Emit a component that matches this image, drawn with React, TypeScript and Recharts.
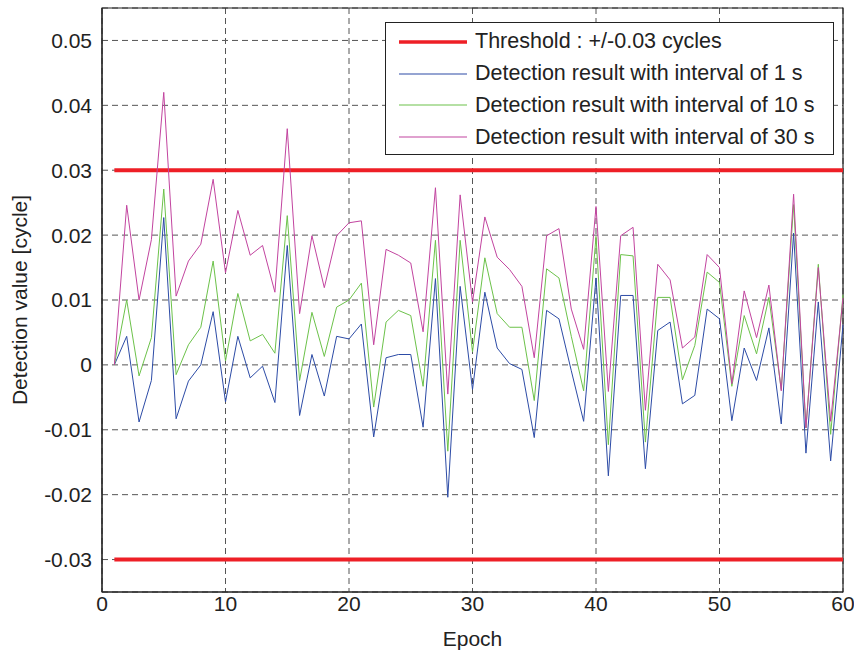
import { LineChart, Line, XAxis, YAxis, CartesianGrid, ReferenceLine, ReferenceArea } from "recharts";

const epochs = [
  1, 2, 3, 4, 5, 6, 7, 8, 9, 10, 11, 12, 13, 14, 15, 16, 17, 18, 19, 20,
  21, 22, 23, 24, 25, 26, 27, 28, 29, 30, 31, 32, 33, 34, 35, 36, 37, 38, 39, 40,
  41, 42, 43, 44, 45, 46, 47, 48, 49, 50, 51, 52, 53, 54, 55, 56, 57, 58, 59, 60,
];

const interval1s = [
  0, 0.0044, -0.0088, -0.0024, 0.0227, -0.0083, -0.0025, 0, 0.0082, -0.0057,
  0.0044, -0.002, -0.0002, -0.0058, 0.0184, -0.0078, 0.0016, -0.0048, 0.0044, 0.004,
  0.0063, -0.0111, 0.0011, 0.0016, 0.0016, -0.0096, 0.0133, -0.0204, 0.0121, -0.0038,
  0.0112, 0.0026, 0.0002, -0.0007, -0.0112, 0.0084, 0.0071, -0.0009, -0.0087, 0.0134,
  -0.0171, 0.0107, 0.0107, -0.016, 0.0053, 0.0066, -0.006, -0.0047, 0.0086, 0.0071,
  -0.0086, 0.0026, -0.0024, 0.0057, -0.0091, 0.0203, -0.0136, 0.0097, -0.0148, 0.0062,
];

const interval10s = [
  0, 0.01, -0.0017, 0.0042, 0.0271, -0.0015, 0.0031, 0.0058, 0.016, 0.0006,
  0.011, 0.0037, 0.0047, 0.0018, 0.023, -0.0024, 0.0081, 0.0013, 0.0089, 0.01,
  0.0126, -0.0065, 0.0066, 0.0084, 0.0076, -0.0033, 0.0192, -0.0133, 0.0192, 0.002,
  0.0165, 0.0079, 0.0058, 0.0058, -0.0055, 0.0148, 0.0134, 0.0044, -0.004, 0.0198,
  -0.0123, 0.017, 0.0168, -0.0119, 0.0104, 0.0104, -0.0023, 0.003, 0.0143, 0.0127,
  -0.0033, 0.0076, 0.0017, 0.0104, -0.0038, 0.0247, -0.0097, 0.0155, -0.0107, 0.0108,
];

const interval30s = [
  0, 0.0246, 0.01, 0.0193, 0.042, 0.0106, 0.016, 0.0186, 0.0286, 0.0142,
  0.0238, 0.0169, 0.0184, 0.0112, 0.0364, 0.0079, 0.0199, 0.0119, 0.0199, 0.0219,
  0.0222, 0.0031, 0.0178, 0.0169, 0.0157, 0.0051, 0.0273, -0.0045, 0.0262, 0.0097,
  0.0228, 0.0166, 0.0147, 0.0121, 0.0011, 0.0199, 0.021, 0.0086, 0.0024, 0.0244,
  -0.0041, 0.0199, 0.0212, -0.007, 0.0155, 0.0131, 0.0026, 0.0043, 0.017, 0.015,
  -0.0029, 0.0114, 0.0042, 0.0123, -0.004, 0.0263, -0.0097, 0.015, -0.0087, 0.0103,
];

const threshold = 0.03;
const xTicks = [0, 10, 20, 30, 40, 50, 60];
const yTicks = [-0.03, -0.02, -0.01, 0, 0.01, 0.02, 0.03, 0.04, 0.05];

const seriesNames = [
  "Threshold : +/-0.03 cycles",
  "Detection result with interval of 1 s",
  "Detection result with interval of 10 s",
  "Detection result with interval of 30 s",
];
const seriesColors = ["#ee1f26", "#2c4ba6", "#6cc24a", "#c2449f"];

const data = epochs.map((epoch, i) => ({
  epoch,
  s1: interval1s[i],
  s10: interval10s[i],
  s30: interval30s[i],
}));

const font = "'Liberation Sans', Arial, Helvetica, sans-serif";
const tickStyle = { fontSize: 21, fill: "#222", fontFamily: font };

const fmtY = (v: number) => (v === 0 ? "0" : v.toFixed(2));

// legend drawn as an overlay so it does not take room from the plot
const LegendBox = () => (
  <div
    style={{
      position: "absolute",
      left: 385,
      top: 22,
      border: "1px solid #222",
      background: "#fff",
      width: 449,
      height: 133,
      boxSizing: "border-box",
      paddingTop: 3,
      fontFamily: font,
      fontSize: 21.5,
      color: "#222",
    }}
  >
    {seriesNames.map((name, i) => (
      <div key={name} style={{ display: "flex", alignItems: "center", height: 31.8 }}>
        <svg width={70} height={10} style={{ marginLeft: 12, flexShrink: 0 }}>
          <line x1={1} x2={69} y1={5} y2={5} stroke={seriesColors[i]} strokeWidth={i === 0 ? 3.5 : 1.2} />
        </svg>
        <span style={{ marginLeft: 7, whiteSpace: "nowrap" }}>{name}</span>
      </div>
    ))}
  </div>
);

export default function App() {
  return (
    <div style={{ position: "absolute", left: 0, top: 0, width: 854, height: 652, background: "#fff" }}>
      <LineChart width={854} height={652} data={data} margin={{ top: 8, right: 11, left: 10, bottom: 0 }}>
        <CartesianGrid strokeDasharray="6 4" stroke="#555" />
        <XAxis
          dataKey="epoch"
          type="number"
          domain={[0, 60]}
          ticks={xTicks}
          height={60}
          tick={tickStyle}
          tickLine={false}
          tickSize={2}
          tickMargin={2}
          axisLine={{ stroke: "#222" }}
          label={{ value: "Epoch", position: "insideBottom", offset: 6, style: tickStyle }}
        />
        <YAxis
          type="number"
          domain={[-0.035, 0.055]}
          ticks={yTicks}
          width={92}
          tick={tickStyle}
          tickFormatter={fmtY}
          tickLine={false}
          tickSize={4}
          tickMargin={6}
          axisLine={{ stroke: "#222" }}
          label={{
            value: "Detection value [cycle]",
            angle: -90,
            position: "insideLeft",
            offset: 10,
            style: { ...tickStyle, textAnchor: "middle" },
          }}
        />
        <ReferenceArea x1={0} x2={60} y1={-0.035} y2={0.055} fill="none" stroke="#222" strokeWidth={1.2} ifOverflow="visible" />
        <ReferenceLine
          segment={[{ x: 1, y: threshold }, { x: 60, y: threshold }]}
          stroke={seriesColors[0]}
          strokeWidth={4}
        />
        <ReferenceLine
          segment={[{ x: 1, y: -threshold }, { x: 60, y: -threshold }]}
          stroke={seriesColors[0]}
          strokeWidth={4}
        />
        <Line dataKey="s1" stroke={seriesColors[1]} strokeWidth={1} dot={false} isAnimationActive={false} />
        <Line dataKey="s10" stroke={seriesColors[2]} strokeWidth={1} dot={false} isAnimationActive={false} />
        <Line dataKey="s30" stroke={seriesColors[3]} strokeWidth={1} dot={false} isAnimationActive={false} />
      </LineChart>
      <LegendBox />
    </div>
  );
}
